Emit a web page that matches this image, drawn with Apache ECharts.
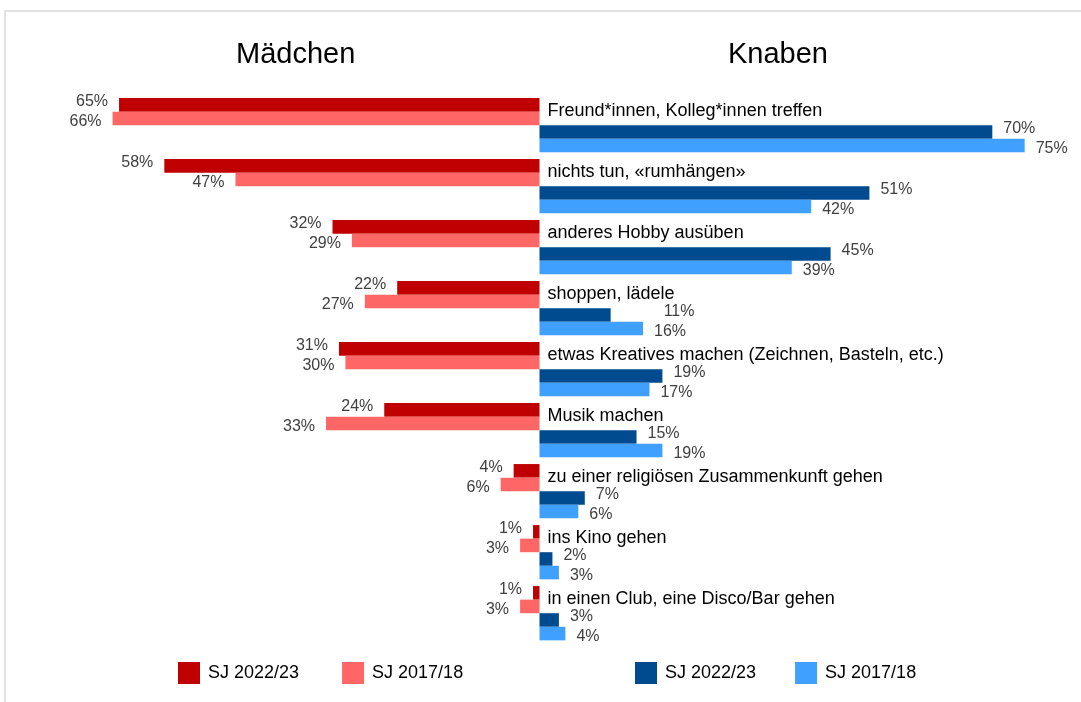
<!DOCTYPE html>
<html>
<head>
<meta charset="utf-8">
<script src="https://cdn.jsdelivr.net/npm/echarts@6/dist/echarts.min.js"></script>
<style>
  html, body { margin: 0; padding: 0; background: #fff; }
  #chart { width: 1081px; height: 702px; }
</style>
</head>
<body>
<div id="chart"></div>
<script>
var categories = [
    'Freund*innen, Kolleg*innen treffen',
    'nichts tun, «rumhängen»',
    'anderes Hobby ausüben',
    'shoppen, lädele',
    'etwas Kreatives machen (Zeichnen, Basteln, etc.)',
    'Musik machen',
    'zu einer religiösen Zusammenkunft gehen',
    'ins Kino gehen',
    'in einen Club, eine Disco/Bar gehen'
];
// Mädchen
var girls2022 = [65, 58, 32, 22, 31, 24, 4, 1, 1];
var girls2017 = [66, 47, 29, 27, 30, 33, 6, 3, 3];
// Knaben
var boys2022 = [70, 51, 45, 11, 19, 15, 7, 2, 3];
var boys2017 = [75, 42, 39, 16, 17, 19, 6, 3, 4];

var myChart = echarts.init(document.getElementById('chart'));
var font = 'Liberation Sans, Arial, sans-serif';

function neg(arr) {
    return arr.map(function (v) { return -v; });
}

// labelShift: 标签额外偏移 (index -> dx)
function makeSeries(name, data, color, pos, dy, labelShift) {
    var items = data.map(function (v, i) {
        if (labelShift && labelShift[i]) {
            return { value: v, label: { offset: [labelShift[i], dy] } };
        }
        return v;
    });
    return {
        name: name,
        type: 'bar',
        data: items,
        barGap: 0,
        barCategoryGap: '11%',
        itemStyle: { color: color },
        label: {
            show: true,
            position: pos,
            distance: 11,
            offset: [0, dy],
            color: '#404040',
            fontFamily: font,
            fontSize: 16,
            formatter: function (p) { return Math.abs(p.value) + '%'; }
        }
    };
}

var option = {
    animation: false,
    backgroundColor: '#fff',
    title: [
        { text: 'Mädchen', left: 236, top: 40, padding: 0,
          textStyle: { fontFamily: font, fontSize: 29, fontWeight: 'normal', color: '#000' } },
        { text: 'Knaben', left: 728, top: 40, padding: 0,
          textStyle: { fontFamily: font, fontSize: 29, fontWeight: 'normal', color: '#000' } }
    ],
    graphic: [{
        type: 'rect',
        shape: { x: 5, y: 11, width: 1200, height: 800 },
        style: { fill: 'none', stroke: '#d9d9d9', lineWidth: 1.5 },
        silent: true
    }],
    legend: [{
        data: ['Mädchen SJ 2022/23', 'Mädchen SJ 2017/18'],
        left: 178, top: 662, padding: 0,
        itemWidth: 22, itemHeight: 22, itemGap: 43,
        icon: 'rect',
        formatter: function (n) { return n.replace('Mädchen ', ''); },
        textStyle: { fontFamily: font, fontSize: 18, color: '#000', padding: [0, 0, 0, 3] }
    }, {
        data: ['Knaben SJ 2022/23', 'Knaben SJ 2017/18'],
        left: 635, top: 662, padding: 0,
        itemWidth: 22, itemHeight: 22, itemGap: 39,
        icon: 'rect',
        formatter: function (n) { return n.replace('Knaben ', ''); },
        textStyle: { fontFamily: font, fontSize: 18, color: '#000', padding: [0, 0, 0, 3] }
    }],
    grid: { left: 22, right: 24, top: 94.7, bottom: 58.3 },
    xAxis: {
        type: 'value',
        min: -80,
        max: 80,
        axisLine: { show: false },
        axisTick: { show: false },
        axisLabel: { show: false },
        splitLine: { show: false }
    },
    yAxis: {
        type: 'category',
        inverse: true,
        data: categories,
        offset: -517.5,
        axisLine: { show: false, onZero: false },
        axisTick: { show: false },
        splitLine: { show: false },
        z: 10,
        axisLabel: {
            inside: true,
            margin: 8,
            align: 'left',
            color: '#000',
            fontFamily: font,
            fontSize: 18,
            formatter: function (v) { return '{a|' + v + '}'; },
            rich: {
                a: { fontFamily: font, fontSize: 18, color: '#000', padding: [0, 0, 28, 0] }
            }
        }
    },
    series: [
        makeSeries('Mädchen SJ 2022/23', neg(girls2022), '#c00000', 'left', -3),
        makeSeries('Mädchen SJ 2017/18', neg(girls2017), '#ff6666', 'left', 3),
        makeSeries('Knaben SJ 2022/23', boys2022, '#004a8f', 'right', -3, { 3: 42 }),
        makeSeries('Knaben SJ 2017/18', boys2017, '#3fa0ff', 'right', 3)
    ]
};

myChart.setOption(option);
</script>
</body>
</html>
